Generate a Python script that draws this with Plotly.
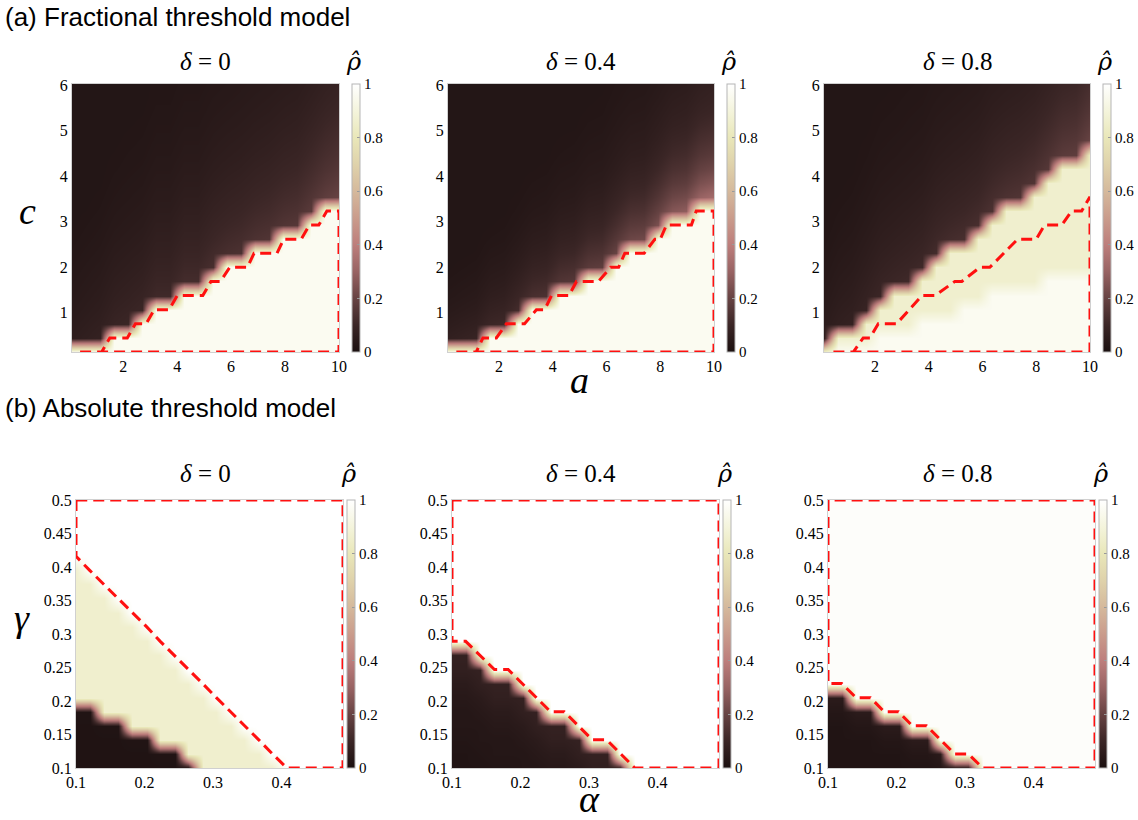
import numpy as np
import plotly.graph_objects as go

# ---------------- grids (data coordinates) ----------------
A_GRID = [0.1, 0.62, 1.14, 1.66, 2.18, 2.71, 3.23, 3.75, 4.27, 4.79,
          5.31, 5.83, 6.35, 6.87, 7.39, 7.92, 8.44, 8.96, 9.48, 10.0]
C_GRID = [0.14, 0.45, 0.76, 1.07, 1.38, 1.69, 2.0, 2.31, 2.62, 2.93,
          3.24, 3.55, 3.86, 4.17, 4.48, 4.79, 5.1, 5.41, 5.72, 6.03]
ALPHA_GRID = [0.1, 0.12, 0.141, 0.162, 0.182, 0.203, 0.223, 0.244, 0.264, 0.285,
              0.305, 0.326, 0.346, 0.367, 0.387, 0.408, 0.428, 0.449, 0.469, 0.49]
GAMMA_GRID = [0.1, 0.121, 0.142, 0.163, 0.184, 0.205, 0.226, 0.247, 0.268, 0.289,
              0.311, 0.332, 0.353, 0.374, 0.395, 0.416, 0.437, 0.458, 0.479, 0.5]

DELTAS = ["0", "0.4", "0.8"]

# ---------------- (a) fractional threshold model ----------------
A1_LIGHT_TOP = [0, 0, 0, 1, 1, 2, 3, 3, 4, 4, 5, 6, 6, 7, 7, 8, 8, 9, 10, 10]
A2_LIGHT_TOP = [0, 0, 0, 1, 1, 2, 3, 3, 4, 4, 5, 5, 6, 7, 7, 8, 9, 9, 10, 10]
A3_WHITE_TOP = [-1, 0, 0, 0, 1, 1, 1, 2, 2, 2, 3, 3, 4, 4, 4, 4, 5, 5, 5, 5]
A3_BAND_TOP = [0, 1, 1, 2, 3, 4, 4, 5, 6, 7, 7, 8, 9, 10, 10, 11, 12, 13, 13, 14]
A1_EDGE = [0.06, 0.07, 0.08, 0.09, 0.1, 0.1, 0.11, 0.11, 0.12, 0.12,
           0.13, 0.13, 0.14, 0.14, 0.15, 0.15, 0.16, 0.17, 0.18, 0.2]
A2_EDGE = [0.07, 0.08, 0.09, 0.1, 0.11, 0.12, 0.13, 0.14, 0.15, 0.16,
           0.17, 0.18, 0.2, 0.21, 0.22, 0.24, 0.26, 0.28, 0.3, 0.33]
A3_EDGE = [0.06, 0.07, 0.08, 0.09, 0.1, 0.1, 0.11, 0.11, 0.12, 0.12,
           0.13, 0.13, 0.14, 0.14, 0.15, 0.15, 0.16, 0.17, 0.18, 0.2]
A1_DECAY = [1.0, 0.88, 0.78, 0.7, 0.63, 0.57, 0.51, 0.46, 0.42, 0.38,
            0.35, 0.32, 0.3, 0.28, 0.26, 0.25, 0.24, 0.23, 0.22, 0.21]
A2_DECAY = [1.0, 0.8, 0.64, 0.52, 0.43, 0.36, 0.3, 0.26, 0.23, 0.2,
            0.18, 0.16, 0.15, 0.14, 0.13, 0.12, 0.11, 0.1, 0.1, 0.1]
A3_DECAY = A1_DECAY
A_LIGHT_VALUE = 0.96
A3_BAND_VALUE = 0.86
A_DARK_FLOOR = 0.025

A1_THEORY_A = [0.4, 10, 10, 9.55, 9.25, 8.9, 8.6, 7.95, 7.7, 6.85, 6.6, 5.95, 5.6, 5.25,
               4.95, 4.0, 3.7, 3.15, 2.85, 2.45, 2.15, 1.5, 1.2]
A1_THEORY_C = [0.14, 0.14, 3.24, 3.24, 2.93, 2.93, 2.62, 2.62, 2.31, 2.31, 2.0, 2.0, 1.69, 1.69,
               1.38, 1.38, 1.07, 1.07, 0.76, 0.76, 0.45, 0.45, 0.14]
A2_THEORY_A = [0.41, 10, 10, 9.34, 9.16, 8.23, 8.0, 7.8, 7.4, 6.68, 6.45, 6.15, 5.7, 4.88,
               4.6, 3.95, 3.7, 3.39, 2.95, 2.27, 1.9, 1.4, 1.15]
A2_THEORY_C = [0.14, 0.14, 3.24, 3.24, 2.93, 2.93, 2.62, 2.62, 2.31, 2.31, 2.0, 2.0, 1.69, 1.69,
               1.38, 1.38, 1.07, 1.07, 0.76, 0.76, 0.45, 0.45, 0.14]
A3_THEORY_A = [0.45, 10, 10, 9.69, 9.32, 8.95, 8.31, 8.0, 7.31, 6.27, 5.9, 5.23, 4.97,
               4.23, 3.75, 2.8, 2.12, 1.81, 1.56, 1.19]
A3_THEORY_C = [0.14, 0.14, 3.55, 3.24, 3.24, 2.93, 2.93, 2.62, 2.62, 2.0, 2.0, 1.69, 1.69,
               1.38, 1.38, 0.76, 0.76, 0.45, 0.45, 0.14]

# ---------------- (b) absolute threshold model ----------------
B1_DARK_TOP = [4, 4, 3, 3, 2, 2, 1, 1, 0, -1, -1, -1, -1, -1, -1, -1, -1, -1, -1, -1]
B1_BAND_TOP = [14, 13, 12, 11, 10, 9, 8, 7, 6, 5, 4, 3, 2, 1, 0, -1, -1, -1, -1, -1]
B2_DARK_TOP = [8, 8, 7, 6, 6, 5, 4, 3, 3, 2, 1, 1, 0, -1, -1, -1, -1, -1, -1, -1]
B3_DARK_TOP = [5, 5, 4, 4, 3, 3, 2, 2, 1, 0, 0, -1, -1, -1, -1, -1, -1, -1, -1, -1]
B1_DARK = [0.02, 0.015, 0.015, 0.015, 0.015, 0.015]
B2_DARK = [0.08, 0.07, 0.05, 0.04, 0.03, 0.03, 0.025, 0.02, 0.02, 0.02]
B3_DARK = [0.05, 0.03, 0.02, 0.02, 0.02, 0.02, 0.02]
B1_BAND_VALUE = 0.86
B_WHITE = [1.0, 1.0, 0.985]
B1_THEORY = [15, 14, 13, 12, 11, 10, 9, 8, 7, 6, 5, 4, 3, 2, 1, 0, 0, 0, 0, 0]
B2_THEORY = [9, 9, 8, 7, 7, 6, 5, 4, 4, 3, 2, 2, 1, 0, 0, 0, 0, 0, 0, 0]
B3_THEORY = [6, 6, 5, 5, 4, 4, 3, 3, 2, 1, 1, 0, 0, 0, 0, 0, 0, 0, 0, 0]

CBAR_TICKS = [0, 0.2, 0.4, 0.6, 0.8, 1]
CBAR_TEXT = ["0", "0.2", "0.4", "0.6", "0.8", "1"]

COLORSCALE = [[0.0, "#1b1010"], [0.1, "#3b2626"], [0.2, "#674343"], [0.3, "#986363"],
              [0.4, "#bd7e7c"], [0.5, "#ca9c8c"], [0.6, "#d5b99c"], [0.7, "#dfd2ab"],
              [0.8, "#e9e7b9"], [0.9, "#f4f4dc"], [1.0, "#ffffff"]]


def frac_matrix(white_top, band_top, edge, decay, band_value):
    z = np.zeros((len(C_GRID), len(A_GRID)))
    for i in range(len(A_GRID)):
        for k in range(len(C_GRID)):
            if k <= white_top[i]:
                z[k, i] = A_LIGHT_VALUE
            elif k <= band_top[i]:
                z[k, i] = band_value
            else:
                d = k - band_top[i] - 1
                z[k, i] = max(A_DARK_FLOOR, edge[i] * decay[d])
    return z


def abs_matrix(dark_top, band_top, dark_vals, band_value, white_value):
    z = np.zeros((len(GAMMA_GRID), len(ALPHA_GRID)))
    for i in range(len(ALPHA_GRID)):
        for k in range(len(GAMMA_GRID)):
            if k <= dark_top[i]:
                d = min(dark_top[i] - k, len(dark_vals) - 1)
                z[k, i] = dark_vals[d]
            elif k <= band_top[i]:
                z[k, i] = band_value
            else:
                z[k, i] = white_value
    return z


Z_A = [
    frac_matrix(A1_LIGHT_TOP, A1_LIGHT_TOP, A1_EDGE, A1_DECAY, A_LIGHT_VALUE),
    frac_matrix(A2_LIGHT_TOP, A2_LIGHT_TOP, A2_EDGE, A2_DECAY, A_LIGHT_VALUE),
    frac_matrix(A3_WHITE_TOP, A3_BAND_TOP, A3_EDGE, A3_DECAY, A3_BAND_VALUE),
]
Z_B = [
    abs_matrix(B1_DARK_TOP, B1_BAND_TOP, B1_DARK, B1_BAND_VALUE, B_WHITE[0]),
    abs_matrix(B2_DARK_TOP, B2_DARK_TOP, B2_DARK, 1.0, B_WHITE[1]),
    abs_matrix(B3_DARK_TOP, B3_DARK_TOP, B3_DARK, 1.0, B_WHITE[2]),
]
THEORY_A = [(A1_THEORY_A, A1_THEORY_C), (A2_THEORY_A, A2_THEORY_C), (A3_THEORY_A, A3_THEORY_C)]
THEORY_B = [B1_THEORY, B2_THEORY, B3_THEORY]

# ---------------- layout geometry (pixels) ----------------
W, H = 1138, 820
ROW_A_X = [(72, 339), (448, 714), (824, 1090)]
ROW_A_Y = (84, 352)
ROW_A_CB = [352, 727, 1103]
ROW_B_X = [(76, 343), (452, 719), (828, 1095)]
ROW_B_Y = (500, 768)
ROW_B_CB = [347, 723, 1099]

SERIF = "Times New Roman, Liberation Serif, DejaVu Serif, serif"
MARKSERIF = "DejaVu Serif, serif"
SANS = "Arial, Liberation Sans, Helvetica, sans-serif"
RED = "#ff1010"

fig = go.Figure()
layout_axes = {}
annotations = []


def px(x):
    return x / W


def py(y):
    return 1 - y / H


def add_axes(idx, xr, yr, xdom, ydom, xticks, xtext, yticks, ytext):
    xa = "xaxis" if idx == 1 else f"xaxis{idx}"
    ya = "yaxis" if idx == 1 else f"yaxis{idx}"
    common = dict(showgrid=False, zeroline=False, showline=True, mirror=True,
                  linecolor="#d0d0d0", linewidth=1, ticks="", layer="below traces",
                  tickfont=dict(family=SERIF, size=16, color="black"))
    layout_axes[xa] = dict(domain=[px(xdom[0]), px(xdom[1])], range=xr,
                           tickvals=xticks, ticktext=xtext,
                           anchor=f"y{idx}" if idx > 1 else "y", **common)
    layout_axes[ya] = dict(domain=[py(ydom[1]), py(ydom[0])], range=yr,
                           tickvals=yticks, ticktext=ytext,
                           anchor=f"x{idx}" if idx > 1 else "x", **common)


def colorbar(xleft, ytop, ybot):
    return dict(x=px(xleft), xanchor="left", y=py((ytop + ybot) / 2), yanchor="middle",
                len=(ybot - ytop) / H, lenmode="fraction", thickness=8,
                thicknessmode="pixels", xpad=0, ypad=0,
                outlinewidth=1, outlinecolor="#b5b5b5",
                tickvals=CBAR_TICKS, ticktext=CBAR_TEXT, ticks="inside", ticklen=3,
                tickcolor="#999999",
                tickfont=dict(family=SERIF, size=15, color="black"))


dash_style = dict(color=RED, width=3, dash="11px,6px")

# Row (a)
for j in range(3):
    idx = j + 1
    xs = "x" if idx == 1 else f"x{idx}"
    ys = "y" if idx == 1 else f"y{idx}"
    fig.add_trace(go.Heatmap(x=A_GRID, y=C_GRID, z=Z_A[j], zsmooth="best",
                             colorscale=COLORSCALE, zmin=0, zmax=1,
                             colorbar=colorbar(ROW_A_CB[j], *ROW_A_Y),
                             xaxis=xs, yaxis=ys, hoverinfo="skip"))
    ta, tc = THEORY_A[j]
    fig.add_trace(go.Scatter(x=ta, y=tc, mode="lines", line=dash_style,
                             cliponaxis=False, showlegend=False, hoverinfo="skip",
                             xaxis=xs, yaxis=ys))
    add_axes(idx, [A_GRID[0], A_GRID[-1]], [C_GRID[0], C_GRID[-1]], ROW_A_X[j], ROW_A_Y,
             [2, 4, 6, 8, 10], ["2", "4", "6", "8", "10"],
             [1, 2, 3, 4, 5, 6], ["1", "2", "3", "4", "5", "6"])

# Row (b)
for j in range(3):
    idx = j + 4
    xs, ys = f"x{idx}", f"y{idx}"
    fig.add_trace(go.Heatmap(x=ALPHA_GRID, y=GAMMA_GRID, z=Z_B[j], zsmooth="best",
                             colorscale=COLORSCALE, zmin=0, zmax=1,
                             colorbar=colorbar(ROW_B_CB[j], *ROW_B_Y),
                             xaxis=xs, yaxis=ys, hoverinfo="skip"))
    lv = THEORY_B[j]
    tx = [ALPHA_GRID[0]] + ALPHA_GRID + [ALPHA_GRID[-1], ALPHA_GRID[0]]
    ty = [GAMMA_GRID[-1]] + [GAMMA_GRID[l] for l in lv] + [GAMMA_GRID[-1], GAMMA_GRID[-1]]
    fig.add_trace(go.Scatter(x=tx, y=ty, mode="lines", line=dash_style,
                             cliponaxis=False, showlegend=False, hoverinfo="skip",
                             xaxis=xs, yaxis=ys))
    add_axes(idx, [ALPHA_GRID[0], ALPHA_GRID[-1]], [GAMMA_GRID[0], GAMMA_GRID[-1]],
             ROW_B_X[j], ROW_B_Y,
             [0.1, 0.2, 0.3, 0.4], ["0.1", "0.2", "0.3", "0.4"],
             [0.1, 0.15, 0.2, 0.25, 0.3, 0.35, 0.4, 0.45, 0.5],
             ["0.1", "0.15", "0.2", "0.25", "0.3", "0.35", "0.4", "0.45", "0.5"])


def text(x, y, s, size, family=SERIF, xanchor="center"):
    annotations.append(dict(x=px(x), y=py(y), xref="paper", yref="paper", text=s,
                            showarrow=False, xanchor=xanchor, yanchor="middle",
                            font=dict(family=family, size=size, color="black")))


text(3, 17, "(a) Fractional threshold model", 26, SANS, "left")
text(3, 408, "(b) Absolute threshold model", 26, SANS, "left")
for j in range(3):
    cx = (ROW_A_X[j][0] + ROW_A_X[j][1]) / 2
    text(cx, 62, f"<i>δ</i> = {DELTAS[j]}", 25)
    cxb = (ROW_B_X[j][0] + ROW_B_X[j][1]) / 2
    text(cxb - 4, 474, f"<i>δ</i> = {DELTAS[j]}", 25)
# rho-hat colorbar titles (rho with combining circumflex)
RHO_HAT = "<i>\u03c1\u0302</i>"
for cb in ROW_A_CB:
    text(cb + 1, 62, RHO_HAT, 24, MARKSERIF)
for cb in ROW_B_CB:
    text(cb + 1, 474, RHO_HAT, 24, MARKSERIF)
text(27, 211, "<i>c</i>", 38)
text(579, 380, "<i>a</i>", 38)
text(22, 618, "<i>γ</i>", 38)
text(589, 799, "<i>α</i>", 38)

fig.update_layout(width=W, height=H,
                  margin=dict(l=0, r=0, t=0, b=0, autoexpand=False),
                  paper_bgcolor="white", plot_bgcolor="white",
                  showlegend=False, annotations=annotations, **layout_axes)

fig.write_html("out.html", config={"displayModeBar": False, "staticPlot": True},
               post_script="document.body.style.margin='0';document.body.style.padding='0';")
